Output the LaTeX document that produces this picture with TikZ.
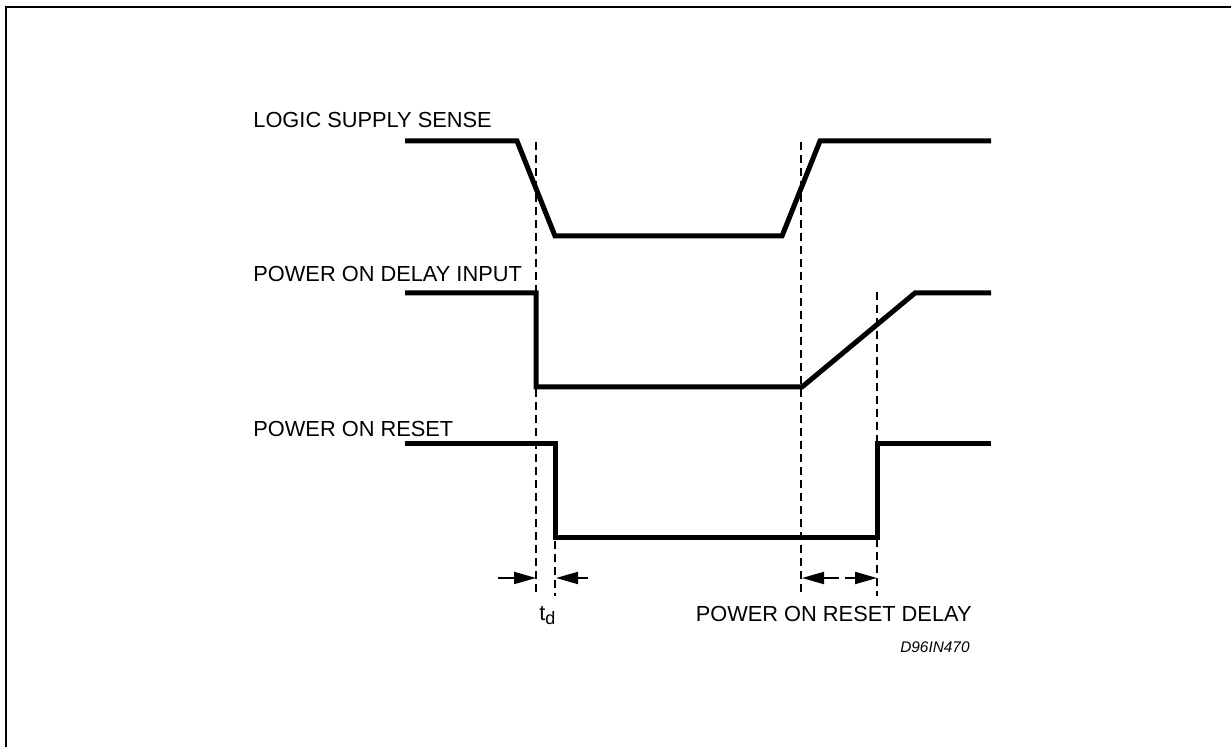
\documentclass[tikz,border=0pt]{standalone}
\usepackage{fontspec}
\setmainfont{Liberation Sans}
\usetikzlibrary{arrows.meta}
\begin{document}
\begin{tikzpicture}[x=0.5pt,y=-0.5pt]
        \tikzstyle{every node}=[inner sep=0pt,font=\fontsize{10.9}{12}\selectfont];
        \tikzstyle{signal}=[line width=2.5pt,line join=miter];
        \tikzstyle{marker}=[line width=1.1pt,dash pattern=on 4pt off 2.5pt];
        \tikzstyle{span}=[line width=1pt,-{Triangle[length=11pt,width=6pt]}];
        \useasboundingbox (0,0) rectangle (1231,747);
        %frame
        \draw[line width=1.2pt] (6,747)--(6,7)--(1231,7);
        %labels
        \node[anchor=base west] (sense) at (253,128) {LOGIC SUPPLY SENSE};
        \node[anchor=base west] (delay) at (253,282) {POWER ON DELAY INPUT};
        \node[anchor=base west] (reset) at (253,437) {POWER ON RESET};
        \node[anchor=base west] (td) at (539,621) {t\raisebox{-2pt}{\fontsize{9}{10}\selectfont d}};
        \node[anchor=base east] (prd) at (972,622) {POWER ON RESET DELAY};
        \node[anchor=base east,font=\fontsize{7.7}{9}\selectfont\itshape] (ref) at (970,653) {D96IN470};
        %waveforms
        \draw[signal] (405,141)--(517,141)--(555,236)--(782,236)--(820,141)--(991,141);
        \draw[signal] (405,293)--(536,293)--(536,387)--(802,387)--(915,293)--(991,293);
        \draw[signal] (405,444)--(555,444)--(555,538)--(877,538)--(877,444)--(991,444);
        %dashed markers
        \draw[marker] (536,142)--(536,596);
        \draw[marker] (555,541)--(555,596);
        \draw[marker] (801,142)--(801,596);
        \draw[marker] (877,292)--(877,596);
        %time spans
        \coordinate (a) at (536,578);
        \coordinate (b) at (556,578);
        \coordinate (al) at (498,578);
        \coordinate (br) at (588,578);
        \coordinate (c) at (802,578);
        \coordinate (d) at (877,578);
        \coordinate (cm) at (839,578);
        \coordinate (dm) at (845,578);
        \draw[span] (al)--(a);
        \draw[span] (br)--(b);
        \draw[span] (cm)--(c);
        \draw[span] (dm)--(d);
    \end{tikzpicture}
\end{document}
